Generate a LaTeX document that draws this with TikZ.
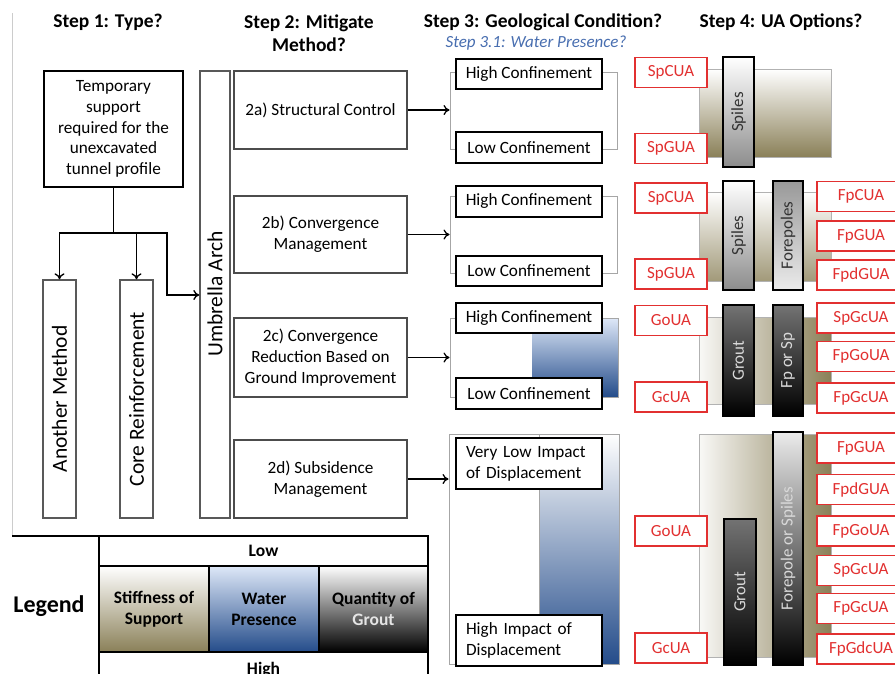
\documentclass[tikz,border=0pt]{standalone}
\usepackage{fontspec}
\setmainfont{Carlito}
\usetikzlibrary{arrows.meta}

\definecolor{soilolive}{RGB}{138,128,88}
\definecolor{waterblue}{RGB}{36,76,138}
\definecolor{lightwater}{RGB}{222,232,248}
\definecolor{uared}{RGB}{226,48,48}
\definecolor{stepblue}{RGB}{72,110,176}

\newcommand{\boxfont}{\fontsize{17.2}{20.8}\selectfont}

\tikzset{
  title/.style={font=\fontsize{19.5}{23}\selectfont\bfseries, align=center},
  conn/.style={line width=1.3pt},
  methodbox/.style={draw=black!70, line width=1.4pt, fill=white, minimum width=173pt, inner sep=2pt, align=center, font=\boxfont},
  vbox/.style={draw=black!65, line width=1.4pt, minimum width=33pt, inner sep=0pt},
  vlabel/.style={rotate=90, font=\fontsize{21.5}{24}\selectfont},
  grpbox/.style={draw=black!35, line width=1pt, inner sep=0pt},
  thickbox/.style={draw, line width=2pt, fill=white, minimum width=146pt, inner sep=0pt, font=\boxfont},
  soil/.style={draw=black!30, line width=1pt, minimum width=132pt, inner sep=0pt},
  bar/.style={draw, line width=2pt, minimum width=31pt, inner sep=0pt},
  barlabel/.style={rotate=90, font=\fontsize{17}{20}\selectfont},
  uabox/.style={draw=uared, line width=1.3pt, fill=white, text=uared, minimum height=30pt, inner sep=0pt, font=\fontsize{17}{20}\selectfont},
  ualeft/.style={uabox, minimum width=72pt},
  uaright/.style={uabox, minimum width=88pt},
  legcell/.style={draw, line width=1.5pt, inner sep=0pt, align=center, font=\fontsize{17.5}{21}\selectfont\bfseries}
}

\begin{document}
\begin{tikzpicture}[x=1pt,y=-1pt,>={To[length=6pt,width=10pt]}]
  \useasboundingbox (0,0) rectangle (895,673);
  \clip (0,0) rectangle (895,673);
  \fill[white] (0,0) rectangle (895,673);
  \draw[black!20, line width=1pt] (12,13) -- (12,536);

  % titles
  \node[title] (t1) at (108,22) {Step 1: Type?};
  \node[title] (t2) at (309,33.5) {Step 2: Mitigate\\Method?};
  \node[title] (t3) at (543,22) {Step 3: Geological Condition?};
  \node[font=\fontsize{17}{20}\selectfont\itshape, text=stepblue] (t31) at (536,43) {Step 3.1: Water Presence?};
  \node[title] (t4) at (781,22) {Step 4: UA Options?};

  % step 1
  \node[draw, line width=2pt, minimum width=139pt, minimum height=116pt, inner sep=0pt, align=center, font=\boxfont] (ts) at (113.5,129) {Temporary\\support\\required for the\\unexcavated\\tunnel profile};
  \node[vbox, minimum height=238pt] (am) at (59.5,399) {};
  \node[vlabel] (amT) at (am) {Another Method};
  \node[vbox, minimum height=238pt] (cr) at (136.5,399) {};
  \node[vlabel] (crT) at (cr) {Core Reinforcement};
  \node[vbox, minimum width=30pt, minimum height=447pt] (ua) at (215,294.5) {};
  \node[vlabel] (uaT) at (215,294) {Umbrella Arch};

  \coordinate (j) at (113.5,233);
  \coordinate (k) at (167,295);
  \draw[conn] (ts.south) -- (j);
  \draw[conn,->] (j) -| (am.north);
  \draw[conn,->] (j -| cr.north) -- (cr.north);
  \draw[conn,->] (j) -| (k) -- (k -| ua.west);

  % step 2
  \node[methodbox, minimum height=78pt] (s2a) at (320.5,110) {2a) Structural Control};
  \node[methodbox, minimum height=77pt] (s2b) at (320.5,234.5) {2b) Convergence\\Management};
  \node[methodbox, minimum height=79pt] (s2c) at (320.5,357.5) {2c) Convergence\\Reduction Based on\\Ground Improvement};
  \node[methodbox, minimum height=78pt] (s2d) at (320.5,479) {2d) Subsidence\\Management};

  % step 3
  \node[grpbox, minimum width=167pt, minimum height=77pt] (g1) at (533.5,110.5) {};
  \node[thickbox, minimum height=30pt] (hc1) at (529,74) {High Confinement};
  \node[thickbox, minimum height=31pt] (lc1) at (529,147.5) {Low Confinement};

  \node[grpbox, minimum width=167pt, minimum height=77pt] (g2) at (533.5,234.5) {};
  \node[thickbox, minimum height=31pt] (hc2) at (529,201.5) {High Confinement};
  \node[thickbox, minimum height=30pt] (lc2) at (529,271) {Low Confinement};

  \fill[top color=lightwater, bottom color=waterblue] (532,318) rectangle (618,397);
  \node[grpbox, minimum width=168pt, minimum height=79pt] (g3) at (534,357.5) {};
  \node[thickbox, minimum height=30pt] (hc3) at (529,318) {High Confinement};
  \node[thickbox, minimum height=31pt] (lc3) at (529,393.5) {Low Confinement};

  \fill[top color=white, bottom color=waterblue] (539,434) rectangle (619,664);
  \node[grpbox, minimum width=170pt, minimum height=230pt] (g4) at (534,549) {};
  \draw[black!35, line width=1pt] (539,434) -- (539,664);
  \node[thickbox, minimum height=51pt, text width=126pt, inner xsep=10pt, align=left] (vl) at (529,463.5) {Very Low Impact\\of Displacement};
  \node[thickbox, minimum height=51pt, text width=126pt, inner xsep=10pt, align=left] (hi) at (529,640.5) {High Impact of\\Displacement};

  \draw[conn,->] (s2a.east) -- (s2a.east -| g1.west);
  \draw[conn,->] (s2b.east) -- (s2b.east -| g2.west);
  \draw[conn,->] (s2c.east) -- (s2c.east -| g3.west);
  \draw[conn,->] (s2d.east) -- (s2d.east -| g4.west);

  % step 4
  \node[soil, minimum height=88pt, top color=white, bottom color=soilolive] (sb1) at (765,113) {};
  \node[soil, minimum height=89pt, top color=white, bottom color=soilolive!80!white] (sb2) at (765,236.5) {};
  \node[soil, minimum height=87pt, left color=soilolive!5!white, right color=soilolive] (sb3) at (765,360.5) {};
  \node[soil, minimum height=223pt, left color=soilolive!5!white, right color=soilolive] (sb4) at (765,545.5) {};

  \node[ualeft] (u1a) at (671,72.5) {SpCUA};
  \node[ualeft] (u1b) at (671,148.5) {SpGUA};
  \node[bar, minimum height=110pt, top color=white, bottom color=black!45] (b1) at (738.5,112) {};
  \node[barlabel, text=black!80] (b1T) at (b1) {Spiles};

  \node[ualeft] (u2a) at (671,198) {SpCUA};
  \node[ualeft] (u2b) at (671,274) {SpGUA};
  \node[bar, minimum height=109pt, top color=white, bottom color=black!45] (b2) at (738.5,235.5) {};
  \node[barlabel, text=black!80] (b2T) at (b2) {Spiles};
  \node[bar, minimum width=30pt, minimum height=109pt, top color=black!40, bottom color=black!8] (b3) at (788,235.5) {};
  \node[barlabel, text=black!80] (b3T) at (b3) {Forepoles};
  \node[uaright] (u2c) at (861,196.5) {FpCUA};
  \node[uaright] (u2d) at (861,236) {FpGUA};
  \node[uaright] (u2e) at (861,275) {FpdGUA};

  \node[ualeft] (u3a) at (671,320.5) {GoUA};
  \node[ualeft] (u3b) at (671,397) {GcUA};
  \node[bar, minimum height=111pt, top color=black!55, bottom color=black] (b4) at (738.5,360.5) {};
  \node[barlabel, text=white!85!black] (b4T) at (b4) {Grout};
  \node[bar, minimum width=30pt, minimum height=111pt, top color=black!55, bottom color=black] (b5) at (788,360.5) {};
  \node[barlabel, text=white!85!black] (b5T) at (b5) {Fp or Sp};
  \node[uaright] (u3c) at (861,318) {SpGcUA};
  \node[uaright] (u3d) at (861,356.5) {FpGoUA};
  \node[uaright] (u3e) at (861,398) {FpGcUA};

  \node[ualeft] (u4a) at (671,531) {GoUA};
  \node[ualeft] (u4b) at (671,648) {GcUA};
  \node[bar, minimum width=32pt, minimum height=146pt, top color=black!55, bottom color=black] (b6) at (740,592) {};
  \node[barlabel, text=white!85!black] (b6T) at (b6) {Grout};
  \node[bar, minimum width=30pt, minimum height=233pt, top color=black!8, bottom color=black] (b7) at (788,548.5) {};
  \node[barlabel, text=white!85!black] (b7T) at (b7) {Forepole or Spiles};
  \node[uaright] (u4c) at (861,448) {FpGUA};
  \node[uaright] (u4d) at (861,489.5) {FpdGUA};
  \node[uaright] (u4e) at (861,531) {FpGoUA};
  \node[uaright] (u4f) at (861,570.5) {SpGcUA};
  \node[uaright] (u4g) at (861,608.5) {FpGcUA};
  \node[uaright] (u4h) at (861,649) {FpGdcUA};

  % legend
  \node[font=\fontsize{24}{28}\selectfont\bfseries] (lg) at (49,606) {Legend};
  \node[legcell, minimum width=329pt, minimum height=30pt] (low) at (263.5,551) {Low};
  \node[legcell, minimum width=110pt, minimum height=86pt, top color=white, bottom color=soilolive] (lc1) at (154,609) {Stiffness of\\Support};
  \node[legcell, minimum width=110pt, minimum height=86pt, top color=lightwater, bottom color=waterblue] (lc2) at (264,609) {Water\\Presence};
  \node[legcell, minimum width=109pt, minimum height=86pt, top color=white, bottom color=black] (lc3) at (373.5,609) {Quantity of\\\textcolor{white!90!black}{Grout}};
  \node[legcell, minimum width=329pt, minimum height=36pt] (high) at (263.5,670) {High};
  \draw[line width=2.5pt] (12,536) -- (428,536) -- (428,673);
\end{tikzpicture}
\end{document}
